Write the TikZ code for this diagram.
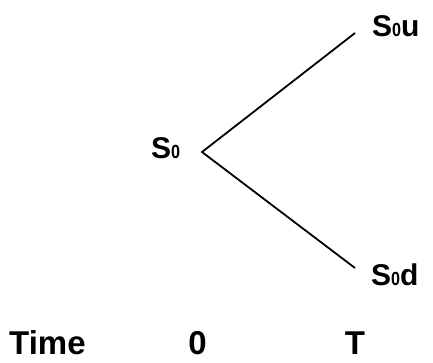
\documentclass[tikz,border=0pt]{standalone}
\usepackage{fontspec}
\setmainfont{Liberation Sans}
\newcommand{\subzero}{{\fontsize{19}{19}\selectfont\scalebox{0.85}[1]{0}}}
\begin{document}
\begin{tikzpicture}[x=1pt,y=-1pt,
  lbl/.style={font=\fontsize{30}{30}\selectfont\bfseries, inner sep=0pt},
  axis/.style={font=\fontsize{33}{33}\selectfont\bfseries, inner sep=0pt},
  branch/.style={line width=1.8pt, line join=miter}]
\useasboundingbox (0,0) rectangle (433,362);
% binomial tree
\coordinate (root) at (202,152);
\coordinate (up) at (355,33);
\coordinate (down) at (355,268);
\draw[branch] (up) -- (root) -- (down);
% node values
\node[lbl, anchor=base west] (s0) at (151,158) {S\subzero};
\node[lbl, anchor=base west] (s0u) at (372,36) {S\subzero u};
\node[lbl, anchor=base west] (s0d) at (371,285) {S\subzero d};
% time axis
\node[axis, anchor=base west] (time) at (9,354) {Time};
\node[axis, anchor=base] (t0) at (197.5,354) {0};
\node[axis, anchor=base] (tT) at (355,354) {T};
\end{tikzpicture}
\end{document}
